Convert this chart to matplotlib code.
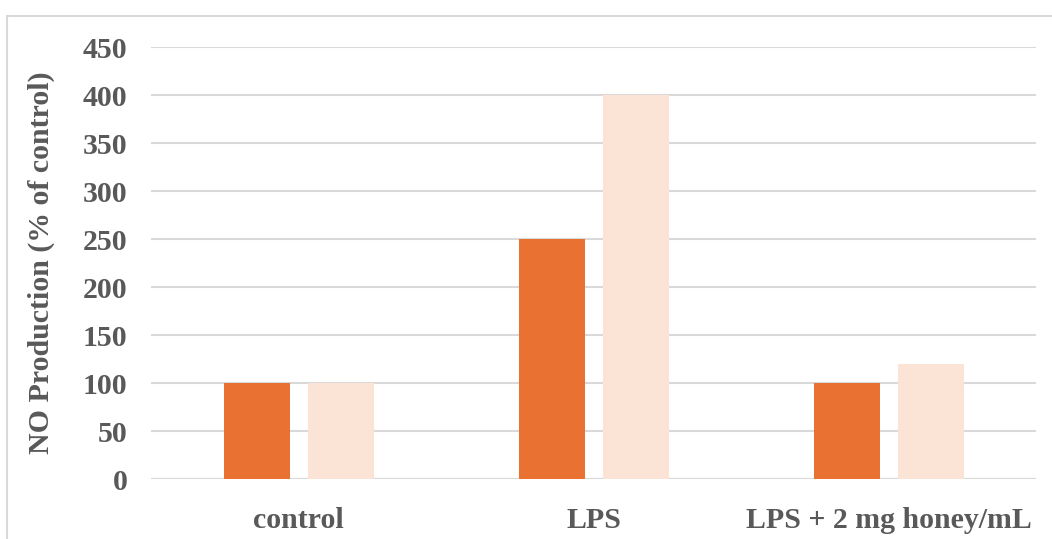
import numpy as np
import matplotlib.pyplot as plt
from matplotlib.patches import Rectangle

# ---- data ----
categories = ['control', 'LPS', 'LPS + 2 mg honey/mL']
series_a = [100, 250, 100]
series_b = [100, 400, 120]
yticks = [0, 50, 100, 150, 200, 250, 300, 350, 400, 450]

plt.rcParams['font.family'] = ['Liberation Serif', 'DejaVu Serif']
plt.rcParams['font.weight'] = 'bold'
plt.rcParams['axes.labelweight'] = 'bold'
text_col = '#595959'
grid_col = '#D9D9D9'

fig = plt.figure(figsize=(10.52, 5.39), dpi=100)
ax = fig.add_axes([151 / 1052, 1 - 479 / 539, 885 / 1052, 432 / 539])

# outer frame
fig.patches.append(Rectangle((7 / 1052, -0.01), 1.1, 1 - 16 / 539 + 0.01,
                             transform=fig.transFigure, fill=False,
                             edgecolor=grid_col, linewidth=1.5))

x = np.arange(len(categories))
w = 66 / 295
off = 42 / 295
ax.bar(x - off, series_a, width=w, color='#E97132', zorder=3)
ax.bar(x + off, series_b, width=w, color='#FBE3D6', zorder=3)

ax.set_xlim(-0.5, len(categories) - 0.5)
ax.set_ylim(0, 450)
ax.set_yticks(yticks)
ax.set_yticklabels([str(t) for t in yticks])
ax.set_xticks(x)
ax.set_xticklabels(categories)
ax.tick_params(length=0, labelsize=21.5, labelcolor=text_col)
ax.tick_params(axis='y', pad=17)
ax.tick_params(axis='x', pad=20)
ax.yaxis.grid(True, color=grid_col, linewidth=1.5, zorder=0)
for s in ax.spines.values():
    s.set_visible(False)
ax.axhline(0, color=grid_col, linewidth=1.5, zorder=1)

ax.set_ylabel('NO Production (% of control)', fontsize=21.5, color=text_col,
              fontweight='bold', labelpad=20)

fig.savefig('out.png', dpi=100)
